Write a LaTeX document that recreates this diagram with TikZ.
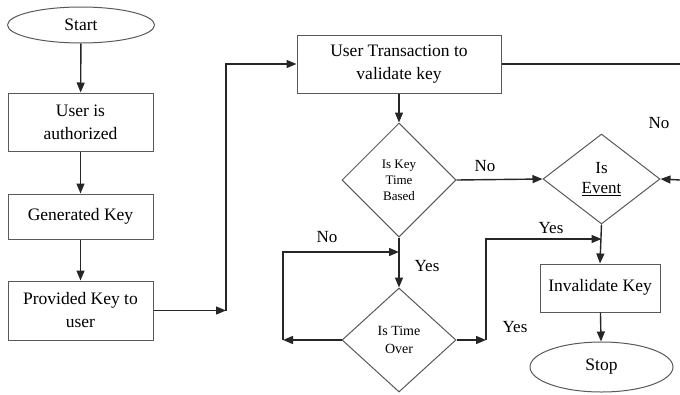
\documentclass[tikz,border=0pt]{standalone}
\usepackage{fontspec}
\setmainfont{Liberation Serif}
\newfontfamily\flowfont{Liberation Serif}
\usetikzlibrary{shapes.geometric,arrows.meta}

\begin{document}
\begin{tikzpicture}[x=1pt,y=-1pt,
  conn/.style={draw=black!85, line width=1.4pt},
  arr/.style={conn, -{Triangle[length=10pt,width=8pt]}},
  outline/.style={draw=black!65, line width=1pt},
  procbox/.style={outline, rectangle, inner sep=0pt, align=center,
    font=\flowfont\fontsize{17.5}{23}\selectfont},
  term/.style={outline, ellipse, inner sep=0pt, font=\flowfont\fontsize{17.5}{21}\selectfont},
  decision/.style={outline, diamond, inner sep=0pt, align=center},
  lbl/.style={font=\flowfont\fontsize{17}{20}\selectfont, inner sep=0pt}]

\useasboundingbox (0,0) rectangle (680,394);

% left column
\node[term, minimum width=147pt, minimum height=36pt] (start) at (81,25) {Start};
\node[procbox, minimum width=145pt, minimum height=58pt] (auth) at (80.5,122) {User is\\authorized};
\node[procbox, minimum width=145pt, minimum height=45pt] (gen) at (80.5,216.5) {\raisebox{5pt}{Generated Key}};
\node[procbox, minimum width=145pt, minimum height=59pt] (prov) at (80.5,310.5) {Provided Key to\\user};

% middle column
\node[decision, minimum width=114pt, minimum height=114pt,
  font=\flowfont\fontsize{13}{16}\selectfont] (kt) at (399,180) {Is Key\\Time\\Based};
\node[procbox, minimum width=204pt, minimum height=58pt] (utx) at (399,64) {User Transaction to\\validate key};
\node[decision, minimum width=114pt, minimum height=104pt,
  font=\flowfont\fontsize{14}{18}\selectfont] (to) at (399,340) {Is Time\\Over};

% right column
\node[decision, minimum width=117pt, minimum height=90pt,
  font=\flowfont\fontsize{17}{20}\selectfont] (ev) at (601.5,179) {Is\\\underline{Event}};
\node[procbox, minimum width=120pt, minimum height=48pt] (inv) at (600,288) {\raisebox{6pt}{Invalidate Key}};
\node[term, minimum width=143pt, minimum height=50pt] (stop) at (601.5,367) {Stop};

% junction points of the connectors
\coordinate (c1) at (226,310.5);
\coordinate (edgeA) at (680,64);
\coordinate (edgeB) at (680,180);
\coordinate (lp) at (283,340);
\coordinate (j1) at (399,252);
\coordinate (rp) at (486,340);
\coordinate (j2) at (601.5,239);

% connectors
\draw[arr] (start) -- (auth);
\draw[arr] (auth) -- (gen);
\draw[arr] (gen) -- (prov);
\draw[arr] (prov.east) -- (c1);
\draw[arr] (c1) |- (utx.west);
\draw[conn] (utx.east) -- (edgeA);
\draw[arr] (edgeB) -- (ev.east);
\draw[arr] (utx) -- (kt);
\draw[arr] (kt.east) -- (ev.west);
\draw[arr] (ev.south) -- (inv.north);
\draw[arr] (inv) -- (stop);
\draw[arr] (kt.south) -- (to.north);
\draw[arr] (to.west) -- (lp);
\draw[arr] (lp) |- (j1);
\draw[arr] (to.east) -- (rp);
\draw[arr] (rp) |- (j2);

% branch labels
\node[lbl] (n1) at (485,166) {No};
\node[lbl] (n2) at (659,123) {No};
\node[lbl] (n3) at (327,237) {No};
\node[lbl] (y1) at (427,266) {Yes};
\node[lbl] (y2) at (515,327) {Yes};
\node[lbl] (y3) at (551,228) {Yes};
\end{tikzpicture}
\end{document}
